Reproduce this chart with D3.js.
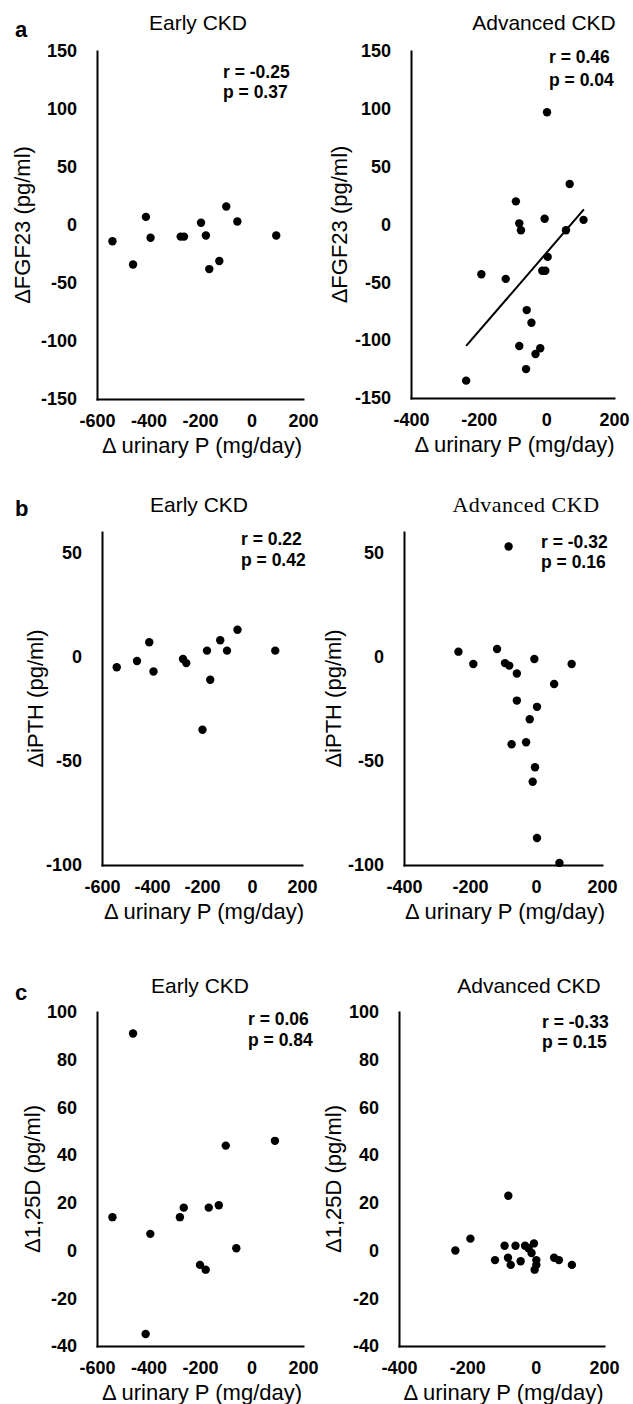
<!DOCTYPE html>
<html>
<head>
<meta charset="utf-8">
<script src="https://cdn.jsdelivr.net/npm/d3@7"></script>
<style>
  body { margin: 0; background: #fff; }
  svg text { font-family: "Liberation Sans", Arial, sans-serif; fill: #000; }
</style>
</head>
<body>
<script>
// values: [delta urinary P, delta marker]
var fgfEarly = [[-540,-14],[-460,-34],[-410,7],[-392,-11],[-275,-10],[-262,-10],[-196,2],
                [-177,-9],[-164,-38],[-125,-31],[-98,16],[-55,3],[96,-9]];
var fgfAdv = [[2,97],[69,35],[-90,20],[-80,1],[-5,5],[110,4],[-75,-5],[58,-5],[4,-28],
              [-12,-40],[-3,-40],[-192,-43],[-120,-47],[-58,-74],[-44,-85],[-80,-105],
              [-18,-107],[-32,-112],[-60,-125],[-237,-135]];
var fgfAdvFit = [[-237,-105],[111,13]];

var pthEarly = [[-541,-5],[-460,-2],[-411,7],[-394,-7],[-276,-1],[-263,-3],[-180,3],
                [-167,-11],[-127,8],[-100,3],[-58,13],[93,3],[-198,-35]];
var pthAdv = [[-83,53],[-235,2.5],[-190,-3.4],[-118,3.8],[-94,-3],[-81,-4.2],[-58,-8],
              [-5,-1],[108,-3.4],[55,-13],[-58,-21],[3,-24],[-19,-30],[-74,-42],[-30,-41],
              [-3,-53],[-10,-60],[3,-87],[71,-99]];

var vitEarly = [[-460,91],[-100,44],[91,46],[-540,14],[-393,7],[-411,-35],[-278,14],
                [-263,18],[-200,-6],[-178,-8],[-166,18],[-127,19],[-59,1]];
var vitAdv = [[-80,23],[-235,0],[-191,5],[-119,-4],[-91,2],[-81,-3],[-73,-6],[-59,2],
              [-44,-4.5],[-31,2],[-21,1],[-12,-1],[-5,3],[2,-4],[2,-6],[-3,-8],[54,-3],
              [68,-4],[106,-6]];

var xTicksEarly = [-600,-400,-200,0,200];
var xTicksAdv = [-400,-200,0,200];
var fgfTicks = [-150,-100,-50,0,50,100,150];
var pthTicks = [-100,-50,0,50];
var vitTicks = [-40,-20,0,20,40,60,80,100];

var xLabel = "\u0394 urinary P (mg/day)";

var w = 633, h = 1404;
var svg = d3.select("body").append("svg").attr("width", w).attr("height", h);

var panels = [
  {pts: fgfEarly, xDom: [-600,200], yDom: [-150,150], xT: xTicksEarly, yT: fgfTicks,
   l: 97, r: 303, t: 51, b: 399, title: "Early CKD", tx: 198, ty: 23, yl: "\u0394FGF23 (pg/ml)", ylx: 22,
   st: ["r = -0.25", "p = 0.37"], sx: 223, sy: [72, 92], letter: "a", ly: 30},
  {pts: fgfAdv, fit: fgfAdvFit, xDom: [-400,200], yDom: [-150,150], xT: xTicksAdv, yT: fgfTicks,
   l: 411, r: 614, t: 51, b: 398, title: "Advanced CKD", tx: 544, ty: 23, yl: "\u0394FGF23 (pg/ml)", ylx: 339,
   st: ["r = 0.46", "p = 0.04"], sx: 549, sy: [57, 80]},
  {pts: pthEarly, xDom: [-600,200], yDom: [-100,60], xT: xTicksEarly, yT: pthTicks,
   l: 102, r: 302, t: 532, b: 865, title: "Early CKD", tx: 199, ty: 505, yl: "\u0394iPTH (pg/ml)", ylx: 35,
   st: ["r = 0.22", "p = 0.42"], sx: 241, sy: [539, 560], letter: "b", ly: 509},
  {pts: pthAdv, xDom: [-400,200], yDom: [-100,60], xT: xTicksAdv, yT: pthTicks,
   l: 404, r: 602, t: 532, b: 865, title: "Advanced CKD", serif: true, tx: 526, ty: 505, yl: "\u0394iPTH (pg/ml)", ylx: 333,
   st: ["r = -0.32", "p = 0.16"], sx: 541, sy: [542, 562]},
  {pts: vitEarly, xDom: [-600,200], yDom: [-40,100], xT: xTicksEarly, yT: vitTicks,
   l: 97, r: 303, t: 1012, b: 1346, title: "Early CKD", tx: 200, ty: 986, yl: "\u03941,25D (pg/ml)", ylx: 32,
   st: ["r = 0.06", "p = 0.84"], sx: 248, sy: [1019, 1040], letter: "c", ly: 993},
  {pts: vitAdv, xDom: [-400,200], yDom: [-40,100], xT: xTicksAdv, yT: vitTicks,
   l: 399, r: 604, t: 1012, b: 1346, title: "Advanced CKD", tx: 529, ty: 986, yl: "\u03941,25D (pg/ml)", ylx: 333,
   st: ["r = -0.33", "p = 0.15"], sx: 542, sy: [1022, 1042]}
];

function drawPanel(p) {
  var x = d3.scaleLinear().domain(p.xDom).range([p.l, p.r]);
  var y = d3.scaleLinear().domain(p.yDom).range([p.b, p.t]);
  var g = svg.append("g");

  var xa = g.append("g")
    .attr("transform", "translate(0," + p.b + ")")
    .call(d3.axisBottom(x).tickValues(p.xT).tickSize(0).tickPadding(15).tickFormat(d => String(d)));
  var ya = g.append("g")
    .attr("transform", "translate(" + p.l + ",0)")
    .call(d3.axisLeft(y).tickValues(p.yT).tickSize(0).tickPadding(20).tickFormat(d => String(d)));

  [xa, ya].forEach(function(a) {
    a.attr("font-family", null).attr("font-size", null);
    a.select(".domain").attr("stroke", "#000").attr("stroke-width", 2).attr("stroke-linecap", "square");
    a.selectAll(".tick text").style("font-size", "18px").style("font-weight", "bold");
  });

  if (p.fit) {
    g.append("path")
      .attr("d", d3.line().x(d => x(d[0])).y(d => y(d[1]))(p.fit))
      .attr("stroke", "#000").attr("stroke-width", 2).attr("fill", "none");
  }

  g.selectAll("circle")
    .data(p.pts)
    .enter()
    .append("circle")
    .attr("cx", d => x(d[0]))
    .attr("cy", d => y(d[1]))
    .attr("r", 4.2)
    .attr("fill", "#000");

  var title = g.append("text")
    .attr("x", p.tx).attr("y", p.ty + 7)
    .attr("text-anchor", "middle")
    .style("font-size", "21px")
    .text(p.title);
  if (p.serif) title.style("font-family", "'Liberation Serif', 'DejaVu Serif', serif").style("letter-spacing", "0.5px").style("font-size", "22px");

  g.append("text")
    .attr("transform", "translate(" + (p.ylx + 8) + "," + ((p.t + p.b) / 2) + ") rotate(-90)")
    .attr("text-anchor", "middle")
    .style("font-size", "22px")
    .text(p.yl);

  g.append("text")
    .attr("x", (p.l + p.r) / 2 + 2).attr("y", p.b + 54)
    .attr("text-anchor", "middle")
    .style("font-size", "22px")
    .text(xLabel);

  p.st.forEach(function(s, i) {
    g.append("text")
      .attr("x", p.sx).attr("y", p.sy[i] + 6)
      .style("font-size", "17.5px").style("font-weight", "bold")
      .text(s);
  });

  if (p.letter) {
    g.append("text")
      .attr("x", 15).attr("y", p.ly + 7)
      .style("font-size", "22px").style("font-weight", "bold")
      .text(p.letter);
  }
}

panels.forEach(drawPanel);
</script>
</body>
</html>
